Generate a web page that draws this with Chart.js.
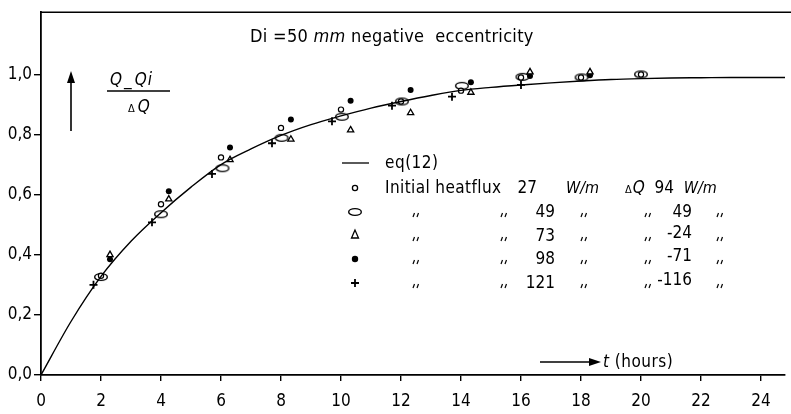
<!DOCTYPE html>
<html>
<head>
<meta charset="utf-8">
<script src="https://cdn.jsdelivr.net/npm/chart.js@4.4.1/dist/chart.umd.min.js"></script>
<style>
  html, body { margin: 0; padding: 0; background: #fff; }
  #wrap { width: 791px; height: 414px; position: relative; }
</style>
</head>
<body>
<div id="wrap"><canvas id="chart" width="791" height="414"></canvas></div>
<script>
// --- data ---
const curveT = [0, 1, 2, 3, 4, 5, 6, 7, 8, 9, 10, 11, 12, 13, 14, 15, 16, 17, 18, 19, 20, 21, 22, 23, 24, 24.8];
const curveV = [0, 0.178, 0.328, 0.445, 0.54, 0.625, 0.70, 0.752, 0.797, 0.833, 0.862, 0.888, 0.91, 0.93, 0.947, 0.957, 0.965, 0.972, 0.978, 0.983, 0.986, 0.988, 0.989, 0.99, 0.99, 0.99];

// initial heatflux 27 W/m, dQ 94
const q27T = [2.0, 4.0, 6.0, 8.0, 10.0, 12.0, 14.0, 16.0, 18.0, 20.0];
const q27V = [0.33, 0.568, 0.724, 0.822, 0.883, 0.91, 0.946, 0.99, 0.99, 1.0];
// 49 W/m, dQ 49
const q49T = [2.0, 4.0, 6.05, 8.02, 10.03, 12.03, 14.03, 16.05, 18.02, 20.0];
const q49V = [0.326, 0.535, 0.688, 0.789, 0.859, 0.91, 0.962, 0.992, 0.99, 1.0];
// 73 W/m, dQ -24
const q73T = [2.3, 4.26, 6.3, 8.33, 10.32, 12.32, 14.33, 16.3, 18.3];
const q73V = [0.40, 0.585, 0.716, 0.784, 0.815, 0.872, 0.94, 1.008, 1.008];
// 98 W/m, dQ -71
const q98T = [2.3, 4.26, 6.3, 8.33, 10.32, 12.32, 14.33, 16.3, 18.3];
const q98V = [0.385, 0.611, 0.757, 0.85, 0.912, 0.948, 0.974, 0.995, 0.997];
// 121 W/m, dQ -116
const q121T = [1.75, 3.7, 5.7, 7.7, 9.7, 11.7, 13.7, 16.0];
const q121V = [0.30, 0.508, 0.669, 0.771, 0.844, 0.896, 0.926, 0.965];

const xTicks = [0, 2, 4, 6, 8, 10, 12, 14, 16, 18, 20, 22, 24];
const yTicks = [0, 0.2, 0.4, 0.6, 0.8, 1.0];

const FONT = '"DejaVu Sans Condensed", "DejaVu Sans", sans-serif';

function pts(ts, vs) {
    return ts.map((t, i) => ({ x: t, y: vs[i] }));
}

// open ellipse marker
const ellipseMark = document.createElement('canvas');
ellipseMark.width = 16;
ellipseMark.height = 10;
(function() {
    const c = ellipseMark.getContext('2d');
    c.strokeStyle = '#000';
    c.lineWidth = 1.4;
    c.beginPath();
    c.ellipse(8, 5, 6.3, 3.4, 0, 0, Math.PI * 2);
    c.stroke();
})();

// text runs: [text, italic, size, dx]
function drawRuns(ctx, x, y, runs) {
    let cx = x;
    runs.forEach(r => {
        ctx.font = (r[1] ? 'italic ' : '') + r[2] + 'px ' + FONT;
        cx += r[3] || 0;
        ctx.fillText(r[0], cx, y);
        cx += ctx.measureText(r[0]).width;
    });
}

function ditto(ctx, x, y) {
    ctx.save();
    ctx.lineWidth = 1.2;
    ctx.beginPath();
    ctx.moveTo(x, y); ctx.lineTo(x + 1.5, y - 4);
    ctx.moveTo(x + 4, y); ctx.lineTo(x + 5.5, y - 4);
    ctx.stroke();
    ctx.restore();
}

const annotations = {
    id: 'annotations',
    afterDatasetsDraw(chart) {
        const ctx = chart.ctx;
        const area = chart.chartArea;
        ctx.save();
        ctx.fillStyle = '#000';
        ctx.strokeStyle = '#000';
        ctx.textBaseline = 'alphabetic';

        // top frame line
        ctx.lineWidth = 1.6;
        ctx.beginPath();
        ctx.moveTo(area.left, area.top);
        ctx.lineTo(chart.width, area.top);
        ctx.stroke();

        // title
        ctx.letterSpacing = '0.3px';
        drawRuns(ctx, 250, 42, [['Di =50 ', false, 18], ['mm', true, 18], [' negative  eccentricity', false, 18]]);

        // y label fraction
        ctx.letterSpacing = '1px';
        drawRuns(ctx, 110, 85, [['Q', true, 17], ['_', false, 17, 1], ['Qi', true, 17, 2]]);
        ctx.lineWidth = 1.3;
        ctx.beginPath();
        ctx.moveTo(107, 91); ctx.lineTo(170, 91);
        ctx.stroke();
        drawRuns(ctx, 128, 112, [['\u0394', false, 11], ['Q', true, 17, 2]]);

        // up arrow
        ctx.lineWidth = 1.6;
        ctx.beginPath();
        ctx.moveTo(71, 131); ctx.lineTo(71, 80);
        ctx.stroke();
        ctx.beginPath();
        ctx.moveTo(71, 71); ctx.lineTo(67, 83); ctx.lineTo(75, 83);
        ctx.closePath(); ctx.fill();

        // time arrow
        ctx.beginPath();
        ctx.moveTo(540, 362); ctx.lineTo(592, 362);
        ctx.stroke();
        ctx.beginPath();
        ctx.moveTo(601, 362); ctx.lineTo(589, 358); ctx.lineTo(589, 366);
        ctx.closePath(); ctx.fill();
        ctx.letterSpacing = '0.5px';
        drawRuns(ctx, 603, 367, [['t', true, 17], [' (hours)', false, 17]]);

        // legend
        const rows = [168, 193, 217, 241, 264, 288];
        const sx = 355;
        ctx.lineWidth = 1.3;
        ctx.beginPath();
        ctx.moveTo(342, rows[0] - 5); ctx.lineTo(369, rows[0] - 5);
        ctx.stroke();
        drawRuns(ctx, 385, rows[0], [['eq(12)', false, 17]]);

        // symbols
        ctx.lineWidth = 1.3;
        ctx.beginPath(); ctx.arc(sx, rows[1] - 5, 2.6, 0, Math.PI * 2); ctx.stroke();
        ctx.drawImage(ellipseMark, sx - 8, rows[2] - 10);
        ctx.beginPath();
        ctx.moveTo(sx, rows[3] - 11); ctx.lineTo(sx - 3.5, rows[3] - 3); ctx.lineTo(sx + 3.5, rows[3] - 3);
        ctx.closePath(); ctx.stroke();
        ctx.beginPath(); ctx.arc(sx, rows[4] - 5, 3.2, 0, Math.PI * 2); ctx.fill();
        ctx.lineWidth = 1.8;
        ctx.beginPath();
        ctx.moveTo(sx - 4, rows[5] - 5); ctx.lineTo(sx + 4, rows[5] - 5);
        ctx.moveTo(sx, rows[5] - 9); ctx.lineTo(sx, rows[5] - 1);
        ctx.stroke();

        ctx.letterSpacing = '0.4px';
        drawRuns(ctx, 385, rows[1], [['Initial heatflux', false, 17]]);
        ctx.letterSpacing = '0px';
        ctx.font = '17px ' + FONT;
        ctx.textAlign = 'right';
        ctx.fillText('27', 537, rows[1]);
        ctx.textAlign = 'left';
        drawRuns(ctx, 566, rows[1], [['W/m', true, 16]]);
        drawRuns(ctx, 625, rows[1], [['\u0394', false, 11], ['Q', true, 17, 1], ['  94  ', false, 17], ['W/m', true, 16]]);

        const flux = ['49', '73', '98', '121'];
        const dq = ['49', '-24', '-71', '-116'];
        for (let i = 0; i < 4; i++) {
            const y = rows[i + 2];
            ditto(ctx, 413, y);
            ditto(ctx, 501, y);
            ctx.font = '17px ' + FONT;
            ctx.textAlign = 'right';
            ctx.fillText(flux[i], 555, y);
            ctx.fillText(dq[i], 692, y - (i === 0 ? 0 : 3));
            ctx.textAlign = 'left';
            ditto(ctx, 581, y);
            ditto(ctx, 645, y);
            ditto(ctx, 717, y);
        }
        ctx.restore();
    }
};

const ctx = document.getElementById('chart').getContext('2d');
new Chart(ctx, {
    type: 'scatter',
    data: {
        datasets: [
            {
                label: 'eq(12)',
                type: 'line',
                data: pts(curveT, curveV),
                borderColor: '#000',
                borderWidth: 1.4,
                pointRadius: 0,
                cubicInterpolationMode: 'monotone',
                fill: false
            },
            {
                label: '27 W/m',
                data: pts(q27T, q27V),
                pointStyle: 'circle',
                radius: 2.6,
                borderColor: '#000',
                borderWidth: 1.2,
                backgroundColor: '#fff'
            },
            {
                label: '49 W/m',
                data: pts(q49T, q49V),
                pointStyle: ellipseMark,
                radius: 5
            },
            {
                label: '73 W/m',
                data: pts(q73T, q73V),
                pointStyle: 'triangle',
                radius: 3.6,
                borderColor: '#000',
                borderWidth: 1.3,
                backgroundColor: '#fff'
            },
            {
                label: '98 W/m',
                data: pts(q98T, q98V),
                pointStyle: 'circle',
                radius: 3,
                borderColor: '#000',
                borderWidth: 0,
                backgroundColor: '#000'
            },
            {
                label: '121 W/m',
                data: pts(q121T, q121V),
                pointStyle: 'cross',
                radius: 4,
                borderColor: '#000',
                borderWidth: 1.8
            }
        ]
    },
    options: {
        responsive: false,
        animation: false,
        events: [],
        layout: { padding: { top: 8, right: 3, left: 0, bottom: 0 } },
        plugins: {
            legend: { display: false },
            tooltip: { enabled: false }
        },
        scales: {
            x: {
                type: 'linear',
                min: 0,
                max: 24.8,
                afterFit(scale) { scale.height = 39; },
                afterBuildTicks(scale) { scale.ticks = xTicks.map(v => ({ value: v })); },
                grid: { drawOnChartArea: false, drawTicks: true, tickLength: 6, color: '#000', lineWidth: 1.4 },
                border: { display: true, color: '#000', width: 1.8 },
                ticks: {
                    color: '#000',
                    padding: 10,
                    maxRotation: 0,
                    font: { family: FONT, size: 17 },
                    callback: v => String(v)
                }
            },
            y: {
                type: 'linear',
                min: 0,
                max: 1.207,
                afterFit(scale) { scale.width = 41; },
                afterBuildTicks(scale) { scale.ticks = yTicks.map(v => ({ value: v })); },
                grid: { drawOnChartArea: false, drawTicks: true, tickLength: 7, color: '#000', lineWidth: 1.4 },
                border: { display: true, color: '#000', width: 1.8 },
                ticks: {
                    color: '#000',
                    padding: 2,
                    font: { family: FONT, size: 17 },
                    callback: v => v.toFixed(1).replace('.', ',')
                }
            }
        }
    },
    plugins: [annotations]
});
</script>
</body>
</html>
